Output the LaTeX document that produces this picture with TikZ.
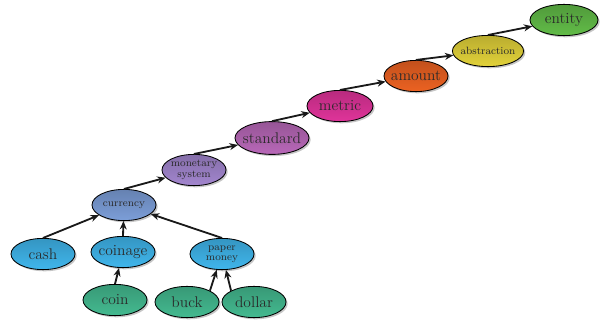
\documentclass[tikz,border=0pt]{standalone}
\usepackage{xcolor}
\usepackage{tikz}
\usetikzlibrary{arrows.meta,positioning,shapes.geometric,shadows}
\definecolor{ink}{HTML}{2A2A2A}
\definecolor{skyblue}{HTML}{40B6EC}
\definecolor{steelblue}{HTML}{7C9ED8}
\definecolor{lavender}{HTML}{A286CE}
\definecolor{plum}{HTML}{B868B8}
\definecolor{rosepink}{HTML}{E0349A}
\definecolor{rust}{HTML}{EC6222}
\definecolor{mustard}{HTML}{E2D23A}
\definecolor{leaf}{HTML}{62BC48}
\definecolor{jade}{HTML}{44BA90}
\tikzset{
  concept/.style={
    ellipse,draw=black,line width=0.6pt,
    minimum width=1.6cm,minimum height=0.78cm,inner xsep=-8pt,inner ysep=-3pt,
    align=center,text=ink,font=\fontsize{11}{13}\selectfont,
    drop shadow={opacity=0.45,shadow xshift=1.2pt,shadow yshift=-1.2pt}
  },
  small/.style={font=\fontsize{7.5}{8.5}\selectfont,align=center},
  tint/.style={top color=#1!82!black,bottom color=#1},
  link/.style={-{Stealth[length=6pt,width=5pt]},line width=1.3pt,draw=black!90}
}
\begin{document}
\begin{tikzpicture}
  \useasboundingbox (0,0) rectangle (15,8.1);
  % chain up to the root
  \node[concept,tint=leaf,minimum width=1.7cm] (entity) at (14.1,7.6) {entity};
  \node[concept,tint=mustard,small,minimum width=1.78cm] (abstraction) at (12.2,6.825) {abstraction};
  \node[concept,tint=rust] (amount) at (10.4,6.2) {amount};
  \node[concept,tint=rosepink,minimum width=1.65cm] (metric) at (8.5,5.45) {metric};
  \node[concept,tint=plum,minimum width=1.85cm,minimum height=0.82cm] (standard) at (6.8,4.65) {standard};
  \node[concept,tint=lavender,small] (monetary) at (4.85,3.85) {monetary\\[-1pt]system};
  \node[concept,tint=steelblue,small] (currency) at (3.1,2.975) {currency};
  % kinds of currency
  \node[concept,tint=skyblue] (cash) at (1.075,1.75) {cash};
  \node[concept,tint=skyblue] (coinage) at (3.075,1.8) {coinage};
  \node[concept,tint=skyblue,small] (paper) at (5.55,1.75) {paper\\[-1pt]money};
  \node[concept,tint=jade] (coin) at (2.875,0.6) {coin};
  \node[concept,tint=jade] (buck) at (4.675,0.55) {buck};
  \node[concept,tint=jade] (dollar) at (6.35,0.55) {dollar};
  \draw[link] (coin.north) -- (coinage);
  \draw[link] (buck.north east) -- (paper);
  \draw[link] (dollar.north west) -- (paper);
  \draw[link] (cash.north) -- (currency);
  \draw[link] (coinage.north) -- (currency);
  \draw[link] (paper.north) -- (currency);
  \draw[link] (currency.north) -- (monetary);
  \draw[link] (monetary.north) -- (standard);
  \draw[link] (standard.north) -- (metric);
  \draw[link] (metric.north) -- (amount);
  \draw[link] (amount.north) -- (abstraction);
  \draw[link] (abstraction.north) -- (entity);
\end{tikzpicture}
\end{document}
